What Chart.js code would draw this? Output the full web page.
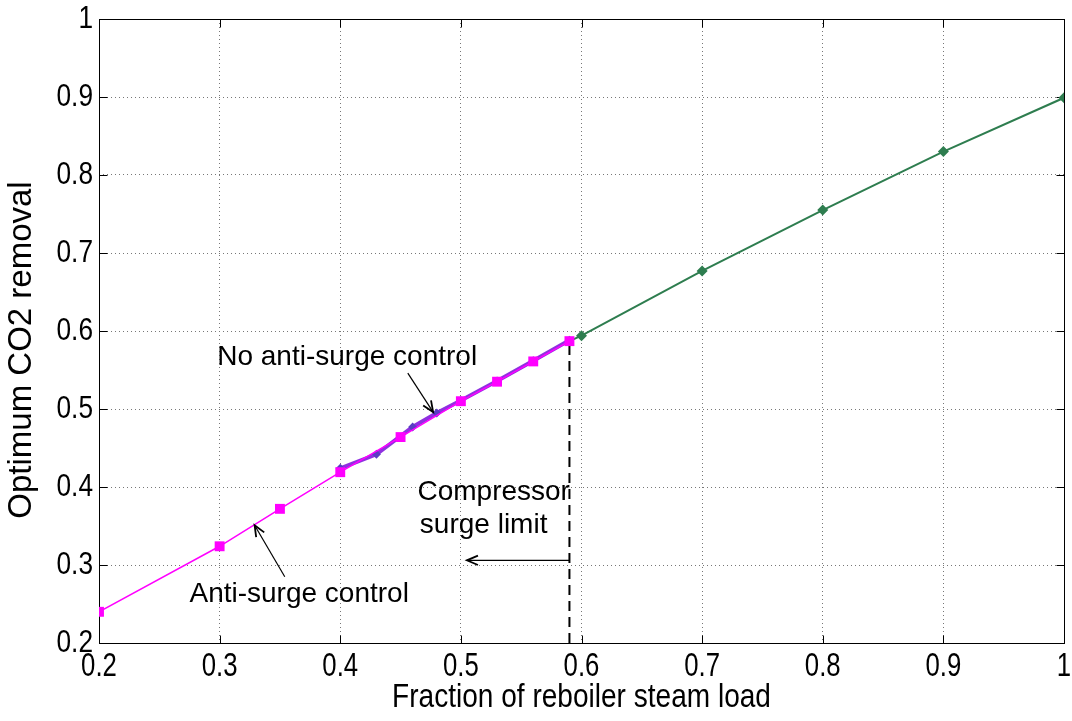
<!DOCTYPE html>
<html>
<head>
<meta charset="utf-8">
<title>Optimum CO2 removal</title>
<script src="https://cdn.jsdelivr.net/npm/chart.js@4.4.0/dist/chart.umd.min.js"></script>
<style>
  html, body { margin: 0; padding: 0; background: #fff; }
</style>
</head>
<body>
<canvas id="chart" width="1072" height="721"></canvas>
<script>
// values
const xTicks = [0.2, 0.3, 0.4, 0.5, 0.6, 0.7, 0.8, 0.9, 1];
const yTicks = [0.2, 0.3, 0.4, 0.5, 0.6, 0.7, 0.8, 0.9, 1];

// anti-surge control (magenta squares)
const antiX = [0.2, 0.3, 0.35, 0.4, 0.45, 0.5, 0.53, 0.56, 0.59];
const antiY = [0.240, 0.324, 0.372, 0.419, 0.464, 0.510, 0.535, 0.561, 0.587];

// no anti-surge control (purple, mostly under the magenta line)
const noAntiX = [0.4, 0.43, 0.46, 0.48, 0.5, 0.53, 0.56, 0.59];
const noAntiY = [0.424, 0.442, 0.477, 0.495, 0.511, 0.536, 0.562, 0.588];

// above the surge limit (green diamonds)
const highX = [0.59, 0.6, 0.7, 0.8, 0.9, 1.0];
const highY = [0.587, 0.594, 0.677, 0.755, 0.830, 0.899];

// compressor surge limit (dashed vertical)
const surgeX = [0.59, 0.59];
const surgeY = [0.2, 0.587];

const pts = (xs, ys) => xs.map((x, i) => ({ x: x, y: ys[i] }));

const font = "'Liberation Sans', Arial, sans-serif";

// text and arrows, placed in data units
const notes = [
    { text: 'No anti-surge control', x: 0.298, y: 0.556 },
    { text: 'Anti-surge control', x: 0.275, y: 0.253 },
    { text: 'Compressor', x: 0.464, y: 0.383 },
    { text: 'surge limit', x: 0.466, y: 0.341 }
];
const arrows = [
    { from: [0.456, 0.546], to: [0.477, 0.496] },
    { from: [0.354, 0.285], to: [0.329, 0.351] },
    { from: [0.59, 0.306], to: [0.505, 0.306] }
];

function drawArrow(ctx, x1, y1, x2, y2) {
    const ang = Math.atan2(y2 - y1, x2 - x1);
    const len = 12, spread = 0.4;
    ctx.beginPath();
    ctx.moveTo(x1, y1);
    ctx.lineTo(x2, y2);
    ctx.stroke();
    ctx.lineWidth = 1.8;
    ctx.beginPath();
    ctx.moveTo(x2 - len * Math.cos(ang - spread), y2 - len * Math.sin(ang - spread));
    ctx.lineTo(x2, y2);
    ctx.lineTo(x2 - len * Math.cos(ang + spread), y2 - len * Math.sin(ang + spread));
    ctx.stroke();
    ctx.lineWidth = 1.2;
}

// narrow text: squeeze the font sideways
function narrowText(ctx, text, x, y, sx) {
    ctx.save();
    ctx.translate(x, y);
    ctx.scale(sx, 1);
    ctx.fillText(text, 0, 0);
    ctx.restore();
}

// MATLAB style box with inward ticks, labels and notes
const frame = {
    id: 'frame',
    beforeDatasetsDraw(chart) {
        const { ctx, chartArea: a, scales: { x, y } } = chart;
        const l = Math.round(a.left) + 0.5, r = Math.round(a.right) + 0.5;
        const t = Math.round(a.top) + 0.5, b = Math.round(a.bottom) + 0.5;
        ctx.save();
        ctx.strokeStyle = '#000';
        ctx.lineWidth = 1;
        ctx.strokeRect(l, t, r - l, b - t);
        ctx.beginPath();
        xTicks.forEach(v => {
            const px = Math.round(x.getPixelForValue(v)) + 0.5;
            ctx.moveTo(px, b); ctx.lineTo(px, b - 8);
            ctx.moveTo(px, t); ctx.lineTo(px, t + 8);
        });
        yTicks.forEach(v => {
            const py = Math.round(y.getPixelForValue(v)) + 0.5;
            ctx.moveTo(l, py); ctx.lineTo(l + 8, py);
            ctx.moveTo(r, py); ctx.lineTo(r - 8, py);
        });
        ctx.stroke();
        ctx.restore();
    },
    afterDatasetsDraw(chart) {
        const { ctx, scales: { x, y } } = chart;
        ctx.save();
        ctx.strokeStyle = '#000';
        ctx.lineWidth = 1.2;
        arrows.forEach(a => {
            drawArrow(ctx, x.getPixelForValue(a.from[0]), y.getPixelForValue(a.from[1]),
                x.getPixelForValue(a.to[0]), y.getPixelForValue(a.to[1]));
        });
        ctx.fillStyle = '#000';
        ctx.font = '28px ' + font;
        ctx.textAlign = 'left';
        ctx.textBaseline = 'alphabetic';
        notes.forEach(n => {
            ctx.fillText(n.text, x.getPixelForValue(n.x), y.getPixelForValue(n.y));
        });
        ctx.restore();
    },
    afterDraw(chart) {
        const { ctx, chartArea: a, scales: { x, y } } = chart;
        ctx.save();
        ctx.fillStyle = '#000';
        ctx.textBaseline = 'middle';

        // tick labels
        ctx.font = '33px ' + font;
        ctx.textAlign = 'center';
        xTicks.forEach(v => narrowText(ctx, String(v), x.getPixelForValue(v), a.bottom + 24, 0.78));
        ctx.font = '32px ' + font;
        ctx.textAlign = 'right';
        yTicks.forEach(v => narrowText(ctx, String(v), a.left - 6, y.getPixelForValue(v), 0.82));

        // axis titles
        ctx.textAlign = 'center';
        ctx.font = '33px ' + font;
        narrowText(ctx, 'Fraction of reboiler steam load', (a.left + a.right) / 2, 698, 0.85);
        ctx.translate(22, 350);
        ctx.rotate(-Math.PI / 2);
        ctx.fillText('Optimum CO2 removal', 0, 0);
        ctx.restore();
    }
};

new Chart(document.getElementById('chart'), {
    type: 'scatter',
    data: {
        datasets: [
            {
                label: 'Anti-surge control',
                data: pts(antiX, antiY),
                showLine: true,
                order: 0,
                borderColor: '#ff00ff',
                borderWidth: 1.5,
                pointStyle: 'rect',
                pointRadius: 7,
                pointBorderWidth: 0,
                pointBackgroundColor: '#ff00ff'
            },
            {
                label: 'Above surge limit',
                data: pts(highX, highY),
                showLine: true,
                order: 1,
                borderColor: '#2e7d4f',
                borderWidth: 2,
                pointStyle: 'rectRot',
                pointRadius: [0, 5.5, 5.5, 5.5, 5.5, 5.5],
                pointBorderWidth: 0,
                pointBackgroundColor: '#2e7d4f'
            },
            {
                label: 'No anti-surge control',
                data: pts(noAntiX, noAntiY),
                showLine: true,
                order: 2,
                borderColor: '#9030e0',
                borderWidth: 4,
                pointStyle: 'rectRot',
                pointRadius: 4.5,
                pointBorderWidth: 0,
                pointBackgroundColor: '#5b3cc4'
            },
            {
                label: 'Compressor surge limit',
                data: pts(surgeX, surgeY),
                showLine: true,
                order: 3,
                borderColor: '#000',
                borderWidth: 2,
                borderDash: [10, 6],
                pointRadius: 0
            }
        ]
    },
    options: {
        responsive: false,
        animation: false,
        layout: { padding: { top: 19, right: 8, bottom: 0, left: 0 } },
        plugins: {
            legend: { display: false },
            tooltip: { enabled: false }
        },
        scales: {
            x: {
                type: 'linear',
                min: 0.2,
                max: 1,
                afterBuildTicks: s => { s.ticks = xTicks.map(v => ({ value: v })); },
                afterFit: s => { s.height = 78; s.paddingLeft = 0; s.paddingRight = 0; },
                grid: { color: '#777', lineWidth: 1, drawTicks: false },
                border: { display: false, dash: [1, 3] },
                ticks: { display: false }
            },
            y: {
                type: 'linear',
                min: 0.2,
                max: 1,
                afterBuildTicks: s => { s.ticks = yTicks.map(v => ({ value: v })); },
                afterFit: s => { s.width = 99; s.paddingTop = 0; s.paddingBottom = 0; },
                grid: { color: '#777', lineWidth: 1, drawTicks: false },
                border: { display: false, dash: [1, 3] },
                ticks: { display: false }
            }
        }
    },
    plugins: [frame]
});
</script>
</body>
</html>
